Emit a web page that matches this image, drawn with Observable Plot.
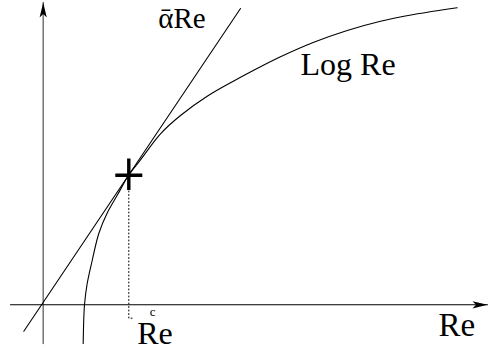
<!DOCTYPE html>
<html><head><meta charset="utf-8">
<script src="https://cdn.jsdelivr.net/npm/d3@7"></script>
<script src="https://cdn.jsdelivr.net/npm/@observablehq/plot@0.6"></script>
<style>
body{margin:0;background:#fff}
</style>
</head><body><div id="chart"></div>
<script>
// Log Re curve (Re, value)
const curveRe  = [40.0, 41.3, 44.0, 49.0, 55.6, 64.0, 74.3, 85.6, 97.3, 117.3, 137.3, 164.0, 190.6, 217.3, 237.3, 270.6, 304.0, 337.3, 370.6, 414.0];
const curveVal = [-38.7, 0, 21.3, 44.3, 71.3, 91.8, 110.0, 129.8, 145.0, 171.0, 189.3, 208.5, 223.8, 238.0, 248.0, 262.5, 274.3, 283.6, 290.3, 297.0];
// tangent line  alpha-bar * Re
const tangentRe  = [-19.4, 197.3];
const tangentVal = [-26.4, 296.3];
// critical point
const criticalRe  = [85.6];
const criticalVal = [129.8];
// dotted drop from the critical point
const dropRe  = [85.6, 85.6, 90.6];
const dropVal = [124.3, -13.4, -13.4];
// axes extents
const xAxisRe  = [-32.7, 444.3];
const yAxisVal = [-38.7, 302.3];
// labels
const labelText = ["ᾱRe", "Log Re", "Re", "Re", "c"];
const labelRe   = [115.0, 257.3, 395.3, 94.0, 106.6];
const labelVal  = [276.6, 230.3, -31.4, -39.0, -10.7];

const curve = curveRe.map((x, i) => ({x, y: curveVal[i]}));
const tangent = tangentRe.map((x, i) => ({x, y: tangentVal[i]}));
const crit = criticalRe.map((x, i) => ({x, y: criticalVal[i]}));
const drop = dropRe.map((x, i) => ({x, y: dropVal[i]}));
const labels = labelText.map((t, i) => ({t, x: labelRe[i], y: labelVal[i]}));

const plusSymbol = {draw(c) {
  c.moveTo(-13.5, -1.6); c.lineTo(13.5, -1.6); c.lineTo(13.5, 1.9); c.lineTo(-13.5, 1.9); c.closePath();
  c.moveTo(-1.7, -16.5); c.lineTo(1.7, -16.5); c.lineTo(1.7, 15); c.lineTo(-1.7, 15); c.closePath();
}};
const upArrow = {draw(c) {
  c.moveTo(0, 0); c.lineTo(3.6, 15); c.lineTo(0, 11.5); c.lineTo(-3.6, 15); c.closePath();
}};
const rightArrow = {draw(c) {
  c.moveTo(0, 0); c.lineTo(-15, -3.6); c.lineTo(-11.5, 0); c.lineTo(-15, 3.6); c.closePath();
}};

const font = "Liberation Serif";
const lbl = (i, size) => Plot.text([labels[i]], {x: "x", y: "y", text: "t", textAnchor: "start", lineAnchor: "bottom", fontSize: size, fontFamily: font, fill: "black"});

const chart = Plot.plot({
  width: 488, height: 350, margin: 0,
  x: {domain: [-42.7, 445.3], range: [0, 488], axis: null},
  y: {domain: [-45.7, 304.3], range: [350, 0], axis: null},
  marks: [
    Plot.line(yAxisVal.map(v => ({x: 0, y: v})), {x: "x", y: "y", stroke: "#6a6a6a", strokeWidth: 1.4}),
    Plot.line(xAxisRe.map(v => ({x: v, y: 0})), {x: "x", y: "y", stroke: "black", strokeWidth: 1.1}),
    Plot.dot([{x: 0, y: yAxisVal[1]}], {x: "x", y: "y", symbol: upArrow, fill: "black", stroke: "none"}),
    Plot.dot([{x: xAxisRe[1], y: 0}], {x: "x", y: "y", symbol: rightArrow, fill: "black", stroke: "none"}),
    Plot.line(tangent, {x: "x", y: "y", stroke: "black", strokeWidth: 1.1}),
    Plot.line(curve, {x: "x", y: "y", curve: "catmull-rom", stroke: "black", strokeWidth: 1.1}),
    Plot.line(drop, {x: "x", y: "y", stroke: "black", strokeWidth: 1, strokeDasharray: "1,2.5"}),
    Plot.dot(crit, {x: "x", y: "y", symbol: plusSymbol, fill: "black", stroke: "none"}),
    lbl(0, 29), lbl(1, 32), lbl(2, 33), lbl(3, 32), lbl(4, 13)
  ]
});
document.getElementById("chart").appendChild(chart);
</script>
</body></html>
